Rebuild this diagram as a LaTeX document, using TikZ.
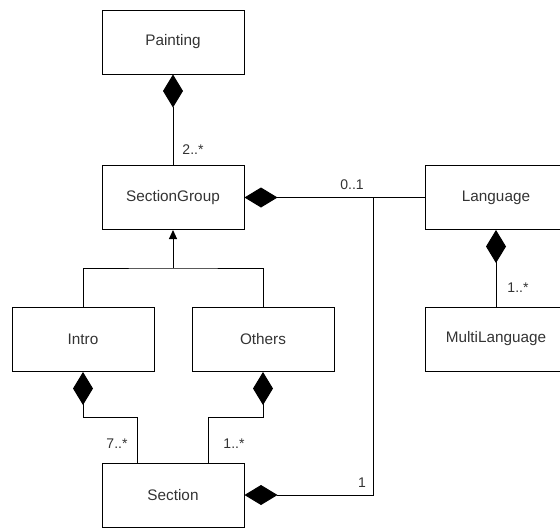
\documentclass[tikz,border=0pt]{standalone}
\usepackage{fontspec}
\setmainfont{Liberation Sans}
\usetikzlibrary{arrows.meta}
\definecolor{txt}{HTML}{333333}
\tikzset{
  cls/.style={draw=black, line width=1pt, minimum width=142pt, minimum height=64pt,
    inner sep=0pt, font=\fontsize{15.3}{17}\selectfont, text=txt},
  conn/.style={line width=1pt},
  comp/.style={conn, {Diamond[length=33pt,width=20pt]}-},
  gen/.style={conn, -{Triangle[length=9pt,width=8pt]}},
  mult/.style={font=\fontsize{14}{16}\selectfont, text=txt, inner sep=0pt}
}
\begin{document}
\begin{tikzpicture}[x=1pt, y=-1pt]
  \useasboundingbox (0,0) rectangle (560,528);
  \begin{scope}
    \clip (0,0) rectangle (560,528);
    % classes
    \node[cls] (painting) at (173,42)  {Painting};
    \node[cls] (sg)       at (173,197.5) {SectionGroup};
    \node[cls] (lang)     at (496,197.5) {Language};
    \node[cls] (ml)       at (496,339) {MultiLanguage};
    \node[cls] (intro)    at (83,339.5)  {Intro};
    \node[cls] (others)   at (263,339.5) {Others};
    \node[cls] (section)  at (173,495) {Section};

    % helper points for routed connectors
    \coordinate (g)  at (173,268);
    \coordinate (j)  at (373,197.5);
    \coordinate (js) at (373,495);
    \coordinate (ia) at (83,417);
    \coordinate (oa) at (263,417);
    \coordinate (si) at (137,463);
    \coordinate (so) at (208,463);

    % composition associations
    \draw[comp] (painting.south) -- (sg.north);
    \draw[comp] (sg.east) -- (lang.west);
    \draw[comp] (lang.south) -- (ml.north);
    \draw[comp] (section.east) -- (js) -- (j);
    \draw[comp] (intro.south) -- (ia) -| (si);
    \draw[comp] (others.south) -- (oa) -| (so);

    % generalization
    \draw[conn] (intro.north) |- (g) -| (others.north);
    \draw[gen] (g) -- (sg.south);

    % multiplicities
    \node[mult] (m1) at (193,150) {2..*};
    \node[mult] (m2) at (352,185) {0..1};
    \node[mult] (m3) at (518,288) {1..*};
    \node[mult] (m4) at (117,444) {7..*};
    \node[mult] (m5) at (234,444) {1..*};
    \node[mult] (m6) at (362,483) {1};
  \end{scope}
\end{tikzpicture}
\end{document}
